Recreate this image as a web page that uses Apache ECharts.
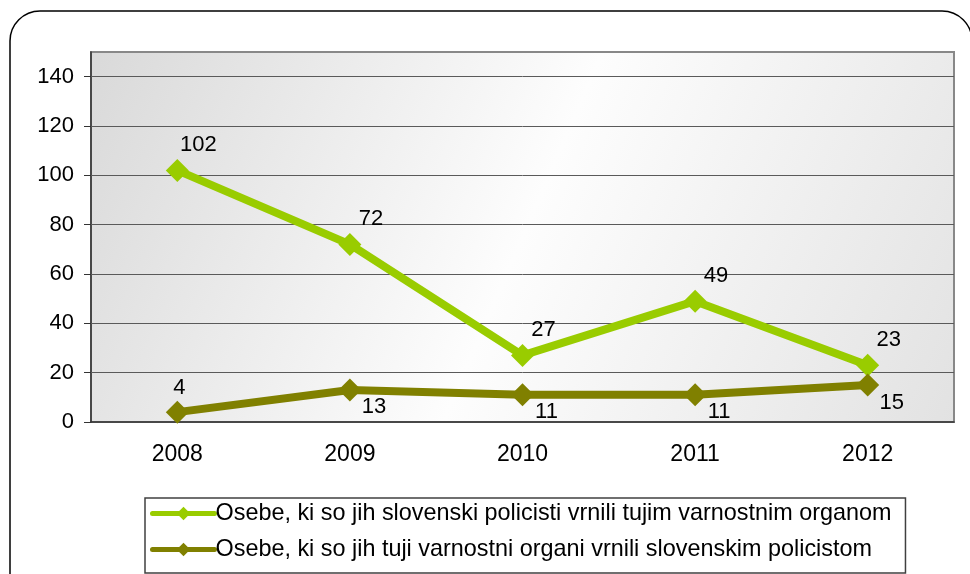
<!DOCTYPE html>
<html><head><meta charset="utf-8">
<script src="https://cdn.jsdelivr.net/npm/echarts@6/dist/echarts.min.js"></script>
<style>html,body{margin:0;padding:0;background:#fff}#c{width:970px;height:574px}</style>
</head><body><div id="c"></div>
<script>
const years = ['2008','2009','2010','2011','2012'];
const seriesNames = ['Osebe, ki so jih slovenski policisti vrnili tujim varnostnim organom','Osebe, ki so jih tuji varnostni organi vrnili slovenskim policistom'];
const returnedByOurs = [102,72,27,49,23];
const returnedToOurs = [4,13,11,11,15];
const yTicks = [0,20,40,60,80,100,120,140];

const FONT = "'Liberation Sans', Arial, sans-serif";
const chart = echarts.init(document.getElementById('c'));
chart.setOption({
  animation:false,
  textStyle:{fontFamily:FONT},
  graphic:[{type:'rect',shape:{x:10,y:11,width:962,height:620,r:30},style:{fill:'none',stroke:'#000',lineWidth:1.5},z:-1}],
  grid:{left:91,top:52,right:16,bottom:152,show:true,
    backgroundColor:new echarts.graphic.LinearGradient(0,0,1,1,[{offset:0,color:'#d9d9d9'},{offset:0.5,color:'#fdfdfd'},{offset:1,color:'#e2e2e2'}]),
    borderColor:'#888',borderWidth:2},
  legend:{orient:'vertical',left:145,top:498,padding:[4,14,12,5],itemGap:13,itemWidth:62,itemHeight:17,
    borderColor:'#404040',borderWidth:1.5,
    lineStyle:{width:5,cap:'round'},
    textStyle:{fontSize:23.4,color:'#000',fontFamily:FONT,padding:[0,0,0,-4]},
    data:seriesNames},
  xAxis:{type:'category',data:years,boundaryGap:true,
    axisLine:{lineStyle:{color:'#333',width:1.5}},
    axisTick:{length:8,lineStyle:{color:'#333'}},
    axisLabel:{fontSize:23,color:'#000',margin:21,fontFamily:FONT}},
  yAxis:{type:'value',min:0,max:150,interval:10,
    axisLine:{show:true,lineStyle:{color:'#333',width:1.5}},
    axisTick:{show:true,length:7,lineStyle:{color:'#333'},customValues:yTicks},
    axisLabel:{fontSize:22,color:'#000',margin:17,fontFamily:FONT,customValues:yTicks},
    splitLine:{show:false}},
  series:[
    {name:seriesNames[0],type:'line',data:returnedByOurs,symbol:'diamond',symbolSize:23,
      lineStyle:{width:8,color:'#99cc00'},itemStyle:{color:'#99cc00'},
      label:{show:true,position:'top',offset:[21,2],fontSize:22,color:'#000',fontFamily:FONT},
      markLine:{silent:true,symbol:'none',label:{show:false},lineStyle:{color:'#5a5a5a',width:1,type:'solid'},
        data:yTicks.filter(v=>v>0).map(v=>({yAxis:v})),z:1}},
    {name:seriesNames[1],type:'line',
      data:returnedToOurs.map((v,i)=>i===0?{value:v,label:{position:'top',offset:[2,3]}}:v),
      symbol:'diamond',symbolSize:23,
      lineStyle:{width:8,color:'#808000'},itemStyle:{color:'#808000'},
      label:{show:true,position:'bottom',offset:[24,-10],fontSize:22,color:'#000',fontFamily:FONT}}
  ]
});
</script></body></html>
